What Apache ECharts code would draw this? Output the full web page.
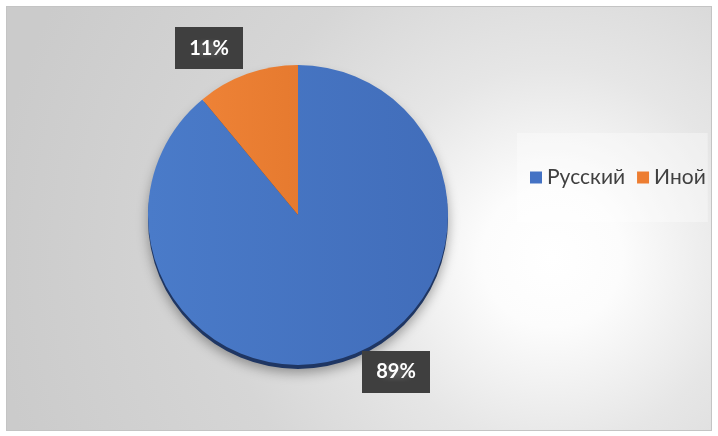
<!DOCTYPE html>
<html>
<head>
<meta charset="utf-8">
<script src="https://cdn.jsdelivr.net/npm/echarts@6/dist/echarts.min.js"></script>
<style>
  html, body { margin: 0; padding: 0; background: #ffffff; }
  #frame {
    position: absolute; left: 6px; top: 6px; width: 704px; height: 423px;
    border: 1px solid #c4c4c4;
    background: radial-gradient(circle at 545px 250px, #ffffff 0px, #fcfcfc 70px, #e6e6e6 190px, #d6d6d6 330px, #cbcbcb 560px);
  }
  #chart { position: absolute; left: 0; top: 0; width: 718px; height: 436px; }
</style>
</head>
<body>
<div id="frame"></div>
<div id="chart"></div>
<script>
// ---- data ----
const categories = ['Русский', 'Иной'];
const values = [89, 11];
const colors = ['#4472C4', '#ED7D31'];

// dotted dark pattern for the label boxes
const pat = document.createElement('canvas');
pat.width = 6; pat.height = 6;
const pctx = pat.getContext('2d');
pctx.fillStyle = '#3f3f3f';
pctx.fillRect(0, 0, 6, 6);
pctx.fillStyle = '#555555';
pctx.fillRect(2, 2, 2, 2);

const pieData = categories.map((name, i) => ({
  name: name,
  value: values[i],
  itemStyle: {
    color: {
      type: 'linear', x: 0, y: 0, x2: 1, y2: 0,
      colorStops: i === 0
        ? [{ offset: 0, color: '#4a7bc9' }, { offset: 1, color: '#416dba' }]
        : [{ offset: 0, color: '#ee8236' }, { offset: 1, color: '#e67a2f' }]
    }
  }
}));
const backData = categories.map((name, i) => ({ name: name, value: values[i] }));
const labelShift = [[5, 6], [4, -16]];

const chart = echarts.init(document.getElementById('chart'), null, { renderer: 'canvas' });
chart.setOption({
  backgroundColor: 'transparent',
  animation: false,
  color: colors,
  legend: {
    data: categories.map((n, i) => ({ name: n, itemStyle: { color: colors[i] } })),
    orient: 'horizontal',
    left: 517,
    top: 133,
    width: 190,
    padding: [34, 2, 34, 13],
    backgroundColor: 'rgba(255,255,255,0.35)',
    icon: 'rect',
    itemWidth: 12,
    itemHeight: 12,
    itemGap: 12,
    textStyle: { fontFamily: 'Lato', fontSize: 21, color: '#404040' }
  },
  series: [
    {
      type: 'pie',
      silent: true,
      center: [298, 219],
      radius: 150,
      startAngle: 90,
      data: backData,
      label: { show: false },
      labelLine: { show: false },
      itemStyle: {
        color: '#1f3663',
        borderWidth: 0,
        shadowColor: 'rgba(0,0,0,0.35)',
        shadowBlur: 12,
        shadowOffsetY: 4
      },
      z: 1
    },
    {
      type: 'pie',
      center: [298, 215],
      radius: 150,
      startAngle: 90,
      data: pieData,
      itemStyle: { borderWidth: 0 },
      labelLine: { show: false, length: 10, length2: 0 },
      labelLayout: (p) => ({ dx: labelShift[p.dataIndex][0], dy: labelShift[p.dataIndex][1] }),
      label: {
        show: true,
        position: 'outside',
        formatter: (p) => p.value + '%',
        fontFamily: 'Lato',
        fontWeight: 'bold',
        fontSize: 20,
        lineHeight: 24,
        color: '#ffffff',
        backgroundColor: { image: pat, repeat: 'repeat' },
        padding: [9, 14],
        shadowColor: 'rgba(0,0,0,0.45)',
        shadowBlur: 5,
        shadowOffsetX: 3,
        shadowOffsetY: 3
      },
      z: 2
    }
  ]
});
</script>
</body>
</html>
